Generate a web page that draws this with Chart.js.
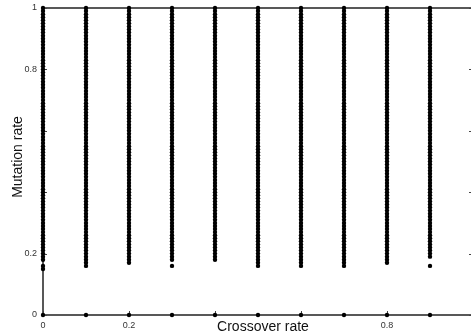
<!DOCTYPE html>
<html>
<head>
<meta charset="utf-8">
<script src="https://cdn.jsdelivr.net/npm/chart.js@4"></script>
<style>
html,body{margin:0;padding:0;background:#fff;overflow:hidden;width:471px;height:335px;}
#wrap{width:476px;height:335px;}
</style>
</head>
<body>
<div id="wrap"><canvas id="c" width="476" height="335"></canvas></div>
<script>
// Crossover rates of each column
const crossoverRates = [0, 0.1, 0.2, 0.3, 0.4, 0.5, 0.6, 0.7, 0.8, 0.9];
// Mutation rates tested (grid)
const mutationGrid = [0.15,0.16,0.17,0.18,0.19,0.20,0.21,0.22,0.23,0.24,0.25,0.26,0.27,0.28,0.29,
  0.30,0.31,0.32,0.33,0.34,0.35,0.36,0.37,0.38,0.39,0.40,0.41,0.42,0.43,0.44,0.45,0.46,0.47,0.48,0.49,
  0.50,0.51,0.52,0.53,0.54,0.55,0.56,0.57,0.58,0.59,0.60,0.61,0.62,0.63,0.64,0.65,0.66,0.67,0.68,0.69,
  0.70,0.71,0.72,0.73,0.74,0.75,0.76,0.77,0.78,0.79,0.80,0.81,0.82,0.83,0.84,0.85,0.86,0.87,0.88,0.89,
  0.90,0.91,0.92,0.93,0.94,0.95,0.96,0.97,0.98,0.99,1.00];
// Lowest mutation rate of the continuous run in each column
const columnLowest = [0.18, 0.16, 0.17, 0.18, 0.18, 0.16, 0.16, 0.16, 0.17, 0.19];
// Isolated points below the runs
const strayCrossover = [0, 0, 0.3, 0.9];
const strayMutation = [0.16, 0.15, 0.16, 0.16];
// Points at zero mutation rate
const zeroCrossover = [0, 0.1, 0.2, 0.3, 0.4, 0.5, 0.6, 0.7, 0.8, 0.9];
const zeroMutation = [0, 0, 0, 0, 0, 0, 0, 0, 0, 0];
// Tick labels shown
const xTickLabels = [0, 0.2, 0.8];
const yTickLabels = [0, 0.2, 0.8, 1];

const pts = [];
crossoverRates.forEach((cx, i) => {
  mutationGrid.forEach(m => { if (m >= columnLowest[i] - 1e-9) pts.push({x: cx, y: m}); });
});
strayCrossover.forEach((cx, i) => pts.push({x: cx, y: strayMutation[i]}));
zeroCrossover.forEach((cx, i) => pts.push({x: cx, y: zeroMutation[i]}));

const near = (v, arr) => arr.some(a => Math.abs(a - v) < 1e-6);
const fmt = v => String(Math.round(v * 10) / 10);

const framePlugin = {
  id: 'frame',
  beforeDatasetsDraw(chart) {
    const {ctx, chartArea: a, scales: {x, y}} = chart;
    ctx.save();
    ctx.strokeStyle = '#222';
    ctx.lineWidth = 1.5;
    ctx.beginPath();
    ctx.moveTo(a.left, a.top); ctx.lineTo(a.right, a.top);
    ctx.moveTo(a.left, a.bottom); ctx.lineTo(a.right, a.bottom);
    ctx.moveTo(a.left, a.top); ctx.lineTo(a.left, a.bottom);
    ctx.moveTo(a.right, a.top); ctx.lineTo(a.right, a.bottom);
    ctx.stroke();
    ctx.lineWidth = 1;
    ctx.strokeStyle = '#444';
    ctx.beginPath();
    x.ticks.forEach(t => {
      const px = Math.round(x.getPixelForValue(t.value)) + 0.5;
      ctx.moveTo(px, a.bottom); ctx.lineTo(px, a.bottom - 4);
      ctx.moveTo(px, a.top); ctx.lineTo(px, a.top + 4);
    });
    y.ticks.forEach(t => {
      const py = Math.round(y.getPixelForValue(t.value)) + 0.5;
      ctx.moveTo(a.left, py); ctx.lineTo(a.left + 4, py);
      ctx.moveTo(a.right, py); ctx.lineTo(a.right - 4, py);
    });
    ctx.stroke();
    ctx.restore();
  },
  afterDraw(chart) {
    const {ctx} = chart;
    ctx.save();
    ctx.fillStyle = '#111';
    ctx.font = '14px "Liberation Sans", Arial, sans-serif';
    ctx.textAlign = 'center';
    ctx.textBaseline = 'middle';
    ctx.fillText('Crossover rate', 263, 327);
    ctx.translate(18, 157);
    ctx.rotate(-Math.PI / 2);
    ctx.fillText('Mutation rate', 0, 0);
    ctx.restore();
  }
};

new Chart(document.getElementById('c'), {
  type: 'scatter',
  data: {
    datasets: [{
      data: pts,
      backgroundColor: '#000',
      borderColor: '#000',
      borderWidth: 0,
      pointRadius: 2.2,
      pointHoverRadius: 2.2,
      clip: false
    }]
  },
  options: {
    responsive: false,
    devicePixelRatio: 1,
    animation: false,
    layout: {padding: {top: 8, right: 3, left: 0, bottom: 0}},
    plugins: {legend: {display: false}, tooltip: {enabled: false}},
    scales: {
      x: {
        type: 'linear', min: 0, max: 1,
        grid: {display: false, drawTicks: false}, border: {display: false},
        afterFit(s) { s.height = 20; s.paddingLeft = 0; s.paddingRight = 0; },
        ticks: {
          stepSize: 0.2, padding: 5, maxRotation: 0, autoSkip: false,
          color: '#333', font: {family: '"Liberation Sans", Arial, sans-serif', size: 9},
          callback: v => near(v, xTickLabels) ? fmt(v) : ''
        }
      },
      y: {
        type: 'linear', min: 0, max: 1,
        grid: {display: false, drawTicks: false}, border: {display: false},
        afterFit(s) { s.width = 43; s.paddingTop = 0; s.paddingBottom = 0; },
        ticks: {
          stepSize: 0.2, padding: 6, autoSkip: false,
          color: '#333', font: {family: '"Liberation Sans", Arial, sans-serif', size: 9},
          callback: v => near(v, yTickLabels) ? fmt(v) : ''
        }
      }
    }
  },
  plugins: [framePlugin]
});
</script>
</body>
</html>
